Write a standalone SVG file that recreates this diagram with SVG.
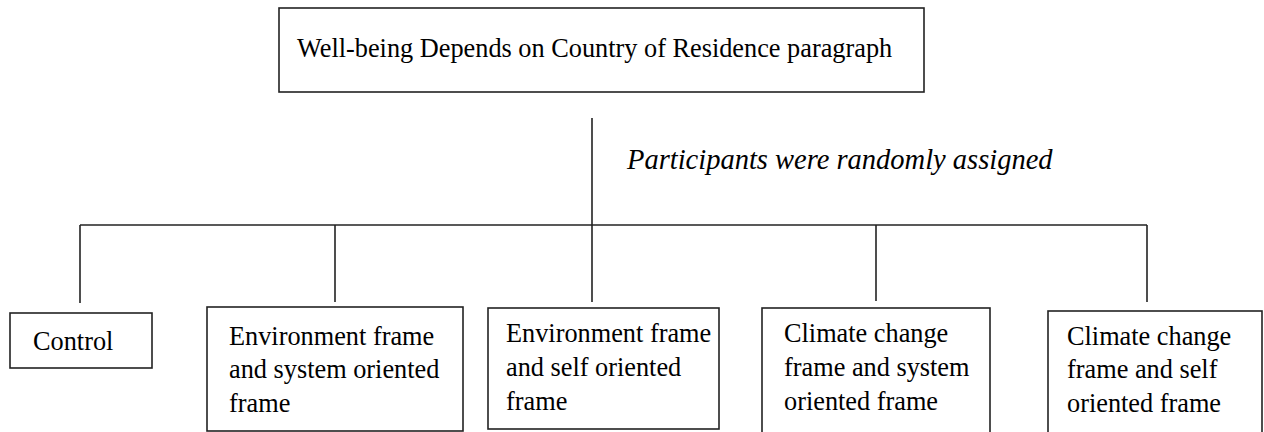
<svg xmlns="http://www.w3.org/2000/svg" width="1264" height="432" viewBox="0 0 1264 432">
  <style>
    .box { fill: #ffffff; stroke: #222222; stroke-width: 1.6; }
    .wire { fill: none; stroke: #222222; stroke-width: 1.6; }
    .label { font-family: "Liberation Serif", "Times New Roman", serif; font-size: 26.3px; fill: #000000; }
    .note { font-family: "Liberation Serif", "Times New Roman", serif; font-size: 28.5px; font-style: italic; fill: #000000; }
  </style>
  <rect width="1264" height="432" fill="#ffffff"/>

  <!-- connectors: trunk, bus and drops -->
  <g id="connectors">
    <path class="wire" d="M592 118 V302"/>
    <path class="wire" d="M80 225 H1147"/>
    <path class="wire" d="M80 225 V303"/>
    <path class="wire" d="M335 225 V302"/>
    <path class="wire" d="M876 225 V301"/>
    <path class="wire" d="M1147 225 V302"/>
    <text class="note" x="627" y="169">Participants were randomly assigned</text>
  </g>

  <g id="root">
    <rect class="box" x="279" y="8" width="645" height="84"/>
    <text class="label" x="297" y="57">Well-being Depends on Country of Residence paragraph</text>
  </g>

  <g id="control">
    <rect class="box" x="10" y="313" width="142" height="55"/>
    <text class="label" x="33" y="350">Control</text>
  </g>

  <g id="env-system">
    <rect class="box" x="207" y="307" width="256" height="124"/>
    <text class="label" x="229" y="345">Environment frame</text>
    <text class="label" x="229" y="378">and system oriented</text>
    <text class="label" x="229" y="412">frame</text>
  </g>

  <g id="env-self">
    <rect class="box" x="488" y="308" width="231" height="121"/>
    <text class="label" x="506" y="342">Environment frame</text>
    <text class="label" x="506" y="376">and self oriented</text>
    <text class="label" x="506" y="410">frame</text>
  </g>

  <g id="climate-system">
    <rect class="box" x="762" y="308" width="228" height="130"/>
    <text class="label" x="784" y="342">Climate change</text>
    <text class="label" x="784" y="376">frame and system</text>
    <text class="label" x="784" y="410">oriented frame</text>
  </g>

  <g id="climate-self">
    <rect class="box" x="1048" y="311" width="214" height="130"/>
    <text class="label" x="1067" y="345">Climate change</text>
    <text class="label" x="1067" y="378">frame and self</text>
    <text class="label" x="1067" y="412">oriented frame</text>
  </g>
</svg>
